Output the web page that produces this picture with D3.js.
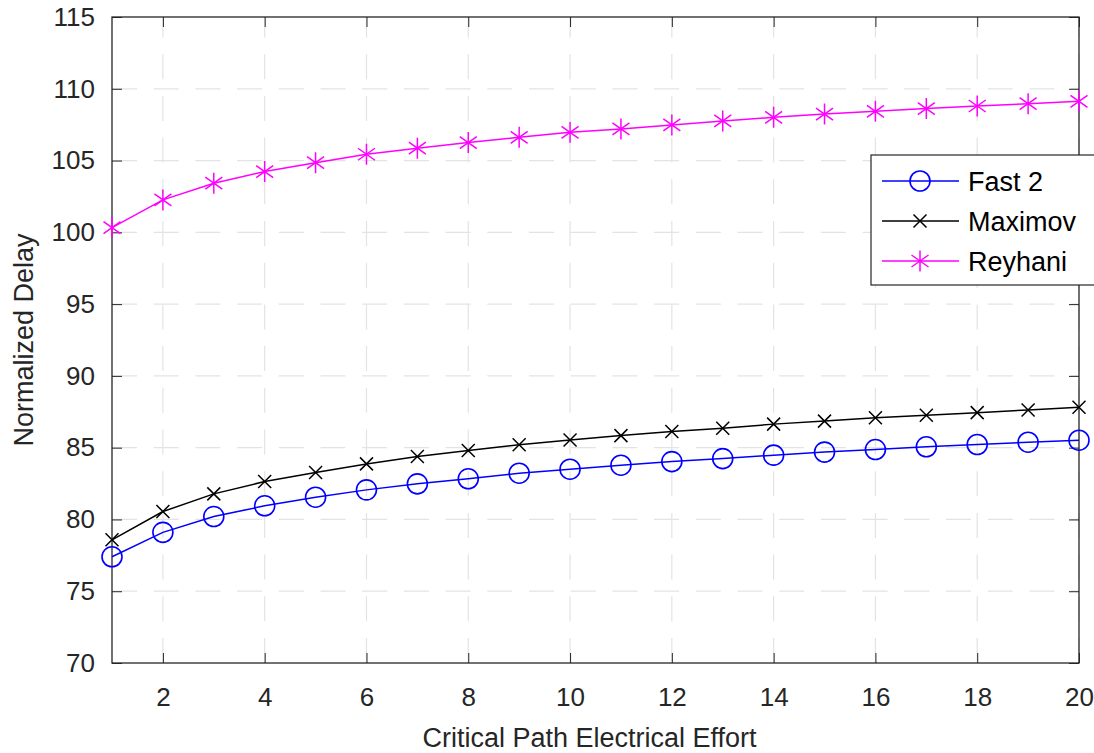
<!DOCTYPE html>
<html>
<head>
<meta charset="utf-8">
<script src="https://cdn.jsdelivr.net/npm/d3@7"></script>
<style>
  body { margin: 0; background: #fff; }
  svg text { font-family: "Liberation Sans", Arial, Helvetica, sans-serif; }
</style>
</head>
<body>
<svg id="chart" width="1094" height="753"></svg>
<script>
// data
var effort = [1, 2, 3, 4, 5, 6, 7, 8, 9, 10, 11, 12, 13, 14, 15, 16, 17, 18, 19, 20];
var fast2 = [77.4, 79.1, 80.2, 80.95, 81.55, 82.06, 82.48, 82.83, 83.22, 83.5,
  83.78, 84.03, 84.24, 84.48, 84.69, 84.87, 85.06, 85.22, 85.38, 85.52];
var maximov = [78.58, 80.55, 81.78, 82.64, 83.27, 83.87, 84.38, 84.8, 85.2, 85.54,
  85.84, 86.12, 86.35, 86.64, 86.85, 87.08, 87.26, 87.44, 87.63, 87.82];
var reyhani = [100.33, 102.26, 103.42, 104.23, 104.85, 105.44, 105.86, 106.25, 106.62, 106.97,
  107.2, 107.48, 107.76, 108.01, 108.24, 108.43, 108.62, 108.8, 108.96, 109.13];
var xTicks = [2, 4, 6, 8, 10, 12, 14, 16, 18, 20];
var yTicks = [70, 75, 80, 85, 90, 95, 100, 105, 110, 115];
var seriesNames = ["Fast 2", "Maximov", "Reyhani"];

var series = [
  { name: seriesNames[0], values: fast2, color: "#0000ff", marker: "circle" },
  { name: seriesNames[1], values: maximov, color: "#000000", marker: "x" },
  { name: seriesNames[2], values: reyhani, color: "#ff00ff", marker: "star" }
];

var plotLeft = 112, plotRight = 1079, plotTop = 17, plotBottom = 663;
var axisColor = "#262626";

var xScale = d3.scaleLinear().domain([1, 20]).range([plotLeft, plotRight]);
var yScale = d3.scaleLinear().domain([70, 115]).range([plotBottom, plotTop]);

var svg = d3.select("#chart");

// grid
var grid = svg.append("g").attr("stroke", "#e3e3e3").attr("stroke-width", 1.2)
  .attr("stroke-dasharray", "25,16.7");
grid.selectAll(".gx").data(xTicks).enter().append("line")
  .attr("x1", function (d) { return xScale(d); })
  .attr("x2", function (d) { return xScale(d); })
  .attr("y1", plotBottom).attr("y2", plotTop);
grid.selectAll(".gy").data(yTicks.slice(1, -1)).enter().append("line")
  .attr("y1", function (d) { return yScale(d); })
  .attr("y2", function (d) { return yScale(d); })
  .attr("x1", plotLeft).attr("x2", plotRight);

// axes (ticks inside, box on)
var fmt = function (d) { return d; };
var styleAxis = function (g) {
  g.attr("font-size", 26).attr("font-family", "'Liberation Sans', Arial, sans-serif");
  g.select(".domain").remove();
  g.selectAll(".tick line").attr("stroke", axisColor).attr("stroke-width", 1);
  g.selectAll(".tick text").attr("fill", axisColor);
};
svg.append("g").attr("transform", "translate(0," + plotBottom + ")")
  .call(d3.axisBottom(xScale).tickValues(xTicks).tickFormat(fmt).tickSizeInner(-10).tickSizeOuter(0).tickPadding(25))
  .call(styleAxis);
svg.append("g").attr("transform", "translate(0," + plotTop + ")")
  .call(d3.axisTop(xScale).tickValues(xTicks).tickFormat("").tickSizeInner(-10).tickSizeOuter(0))
  .call(styleAxis);
svg.append("g").attr("transform", "translate(" + plotLeft + ",0)")
  .call(d3.axisLeft(yScale).tickValues(yTicks).tickFormat(fmt).tickSizeInner(-10).tickSizeOuter(0).tickPadding(17))
  .call(styleAxis);
svg.append("g").attr("transform", "translate(" + plotRight + ",0)")
  .call(d3.axisRight(yScale).tickValues(yTicks).tickFormat("").tickSizeInner(-10).tickSizeOuter(0))
  .call(styleAxis);

svg.append("rect").attr("x", plotLeft).attr("y", plotTop)
  .attr("width", plotRight - plotLeft).attr("height", plotBottom - plotTop)
  .attr("fill", "none").attr("stroke", axisColor).attr("stroke-width", 1.3);

// axis labels
svg.append("text").attr("x", (plotLeft + plotRight) / 2 - 6).attr("y", 747)
  .attr("text-anchor", "middle").attr("font-size", 27).attr("fill", axisColor)
  .text("Critical Path Electrical Effort");
svg.append("text")
  .attr("transform", "translate(33," + (plotTop + plotBottom) / 2 + ") rotate(-90)")
  .attr("text-anchor", "middle").attr("font-size", 27).attr("fill", axisColor)
  .text("Normalized Delay");

// marker drawing
var drawMarker = function (g, type, color) {
  if (type === "circle") {
    g.append("circle").attr("r", 10).attr("fill", "none")
      .attr("stroke", color).attr("stroke-width", 1.6);
  } else if (type === "x") {
    g.append("path").attr("d", "M-6.5,-6.5L6.5,6.5M-6.5,6.5L6.5,-6.5")
      .attr("stroke", color).attr("stroke-width", 1.5).attr("fill", "none");
  } else {
    g.append("path").attr("d", "M0,-10.5L0,10.5M-8.5,-6L8.5,6M-8.5,6L8.5,-6")
      .attr("stroke", color).attr("stroke-width", 1.5).attr("fill", "none");
  }
};

var line = d3.line()
  .x(function (d, i) { return xScale(effort[i]); })
  .y(function (d) { return yScale(d); });

series.forEach(function (s) {
  svg.append("path").datum(s.values).attr("d", line)
    .attr("fill", "none").attr("stroke", s.color).attr("stroke-width", 1.5);
  s.values.forEach(function (v, i) {
    var g = svg.append("g")
      .attr("transform", "translate(" + xScale(effort[i]) + "," + yScale(v) + ")");
    drawMarker(g, s.marker, s.color);
  });
});

// legend
var legend = svg.append("g");
legend.append("rect").attr("x", 871).attr("y", 155).attr("width", 240).attr("height", 130)
  .attr("fill", "#fff").attr("stroke", axisColor).attr("stroke-width", 1.2);
series.forEach(function (s, i) {
  var y = 181 + i * 40;
  legend.append("line").attr("x1", 882).attr("x2", 959).attr("y1", y).attr("y2", y)
    .attr("stroke", s.color).attr("stroke-width", 1.5);
  var g = legend.append("g").attr("transform", "translate(920," + y + ")");
  drawMarker(g, s.marker, s.color);
  legend.append("text").attr("x", 968).attr("y", y + 9.5).attr("font-size", 27)
    .attr("fill", "#000").text(s.name);
});
</script>
</body>
</html>
